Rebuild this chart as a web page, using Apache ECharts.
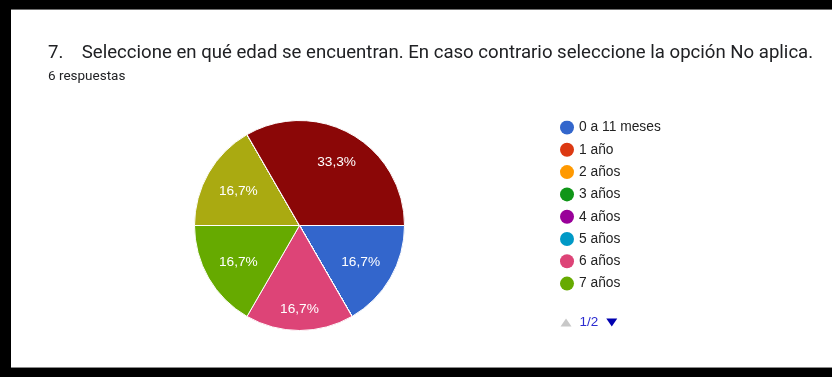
<!DOCTYPE html>
<html>
<head>
<meta charset="utf-8">
<script src="https://cdn.jsdelivr.net/npm/echarts@6/dist/echarts.min.js"></script>
<style>
  html, body { margin: 0; padding: 0; background: #ffffff; }
  #chart { width: 832px; height: 377px; }
</style>
</head>
<body>
<div id="chart"></div>
<script>
// Answer options of the question, in form order
const categories = [
  '0 a 11 meses', '1 año', '2 años', '3 años', '4 años', '5 años', '6 años', '7 años',
  '8 años', '9 años', '10 años', '11 años', '12 años', '13 años', '14 años', 'No aplica'
];
// Number of responses for each option (6 in total)
const responses = [1, 0, 0, 0, 0, 0, 1, 1, 0, 0, 0, 0, 1, 0, 0, 2];
// Google Forms palette, one colour per option
const palette = [
  '#3366cc', '#dc3912', '#ff9900', '#109618', '#990099', '#0099c6', '#dd4477', '#66aa00',
  '#b82e2e', '#316395', '#994499', '#22aa99', '#aaaa11', '#6633cc', '#e67300', '#8b0707'
];
const questionTitle = '7.    Seleccione en qué edad se encuentran. En caso contrario seleccione la opción No aplica.';
const responseCount = '6 respuestas';

const pieData = categories.map((name, i) => ({ name: name, value: responses[i] }));

const PIE_CENTER = [299.5, 225.5];
const PIE_RADIUS = 105;
// the far corner of each percentage label sits on this circle
const LABEL_REACH = 91;

const chart = echarts.init(document.getElementById('chart'), null, { renderer: 'canvas' });

const fmtPercent = p => p.percent.toFixed(1).replace('.', ',') + '%';

// Slide each inside label along its slice bisector until the label box
// reaches LABEL_REACH from the centre.
function placePieLabel(p) {
  const r = p.labelRect;
  const cx = r.x + r.width / 2;
  const cy = r.y + r.height / 2;
  let ux = cx - PIE_CENTER[0];
  let uy = cy - PIE_CENTER[1];
  const len = Math.hypot(ux, uy) || 1;
  ux /= len; uy /= len;
  const dx = (ux >= 0 ? 1 : -1) * r.width / 2;
  const dy = (uy >= 0 ? 1 : -1) * r.height / 2;
  const ud = ux * dx + uy * dy;
  const disc = ud * ud - (dx * dx + dy * dy) + LABEL_REACH * LABEL_REACH;
  const t = -ud + Math.sqrt(Math.max(disc, 0));
  return {
    x: PIE_CENTER[0] + t * ux,
    y: PIE_CENTER[1] + t * uy + 1.5,
    align: 'center',
    verticalAlign: 'middle'
  };
}

chart.setOption({
  backgroundColor: '#ffffff',
  color: palette,
  animation: false,
  title: {
    text: questionTitle,
    subtext: responseCount,
    left: 48,
    top: 43.5,
    padding: 0,
    itemGap: 7.5,
    textStyle: { fontFamily: 'Roboto', fontSize: 18.6, fontWeight: 'normal', color: '#202124' },
    subtextStyle: { fontFamily: 'Roboto', fontSize: 13.5, color: '#202124' }
  },
  legend: {
    type: 'scroll',
    orient: 'vertical',
    left: 560,
    top: 120.5,
    height: 209,
    padding: 0,
    icon: 'circle',
    itemWidth: 14,
    itemHeight: 14,
    itemGap: 8.3,
    itemStyle: { borderWidth: 0 },
    textStyle: { fontFamily: 'Liberation Sans', fontSize: 13.8, color: '#222222' },
    pageButtonGap: 16.5,
    pageButtonItemGap: 2,
    pageIconSize: [54, 8],
    // next arrow carries a trailing point so the pager lines up under the icons
    pageIcons: {
      vertical: ['path://M0,8L5.5,0L11,8z', 'path://M0,0L11,0L5.5,8zM54,0']
    },
    pageIconColor: '#0000b0',
    pageIconInactiveColor: '#c8c8c8',
    pageFormatter: '{current}/{total}',
    pageTextStyle: { fontFamily: 'Liberation Sans', fontSize: 13.5, lineHeight: 13, color: '#2b2bd0' },
    data: categories
  },
  series: [
    {
      type: 'pie',
      center: PIE_CENTER,
      radius: [0, PIE_RADIUS],
      startAngle: 0,
      clockwise: true,
      minShowLabelAngle: 1,
      itemStyle: { borderColor: '#ffffff', borderWidth: 1 },
      label: {
        show: true,
        position: 'inside',
        formatter: fmtPercent,
        fontFamily: 'Liberation Sans',
        fontSize: 13.7,
        color: '#ffffff'
      },
      labelLine: { show: false },
      labelLayout: placePieLabel,
      emphasis: { disabled: true },
      data: pieData
    }
  ],
  graphic: [
    // screenshot frame
    { type: 'rect', shape: { x: 0, y: 0, width: 832, height: 10 }, style: { fill: '#000000' }, silent: true },
    { type: 'rect', shape: { x: 0, y: 0, width: 11, height: 377 }, style: { fill: '#000000' }, silent: true },
    { type: 'rect', shape: { x: 0, y: 368, width: 832, height: 9 }, style: { fill: '#000000' }, silent: true },
    { type: 'rect', shape: { x: 11, y: 9, width: 821, height: 1 }, style: { fill: '#6e6e6e' }, silent: true },
    { type: 'rect', shape: { x: 11, y: 367, width: 821, height: 1 }, style: { fill: '#8a8a8a' }, silent: true }
  ]
});
</script>
</body>
</html>
